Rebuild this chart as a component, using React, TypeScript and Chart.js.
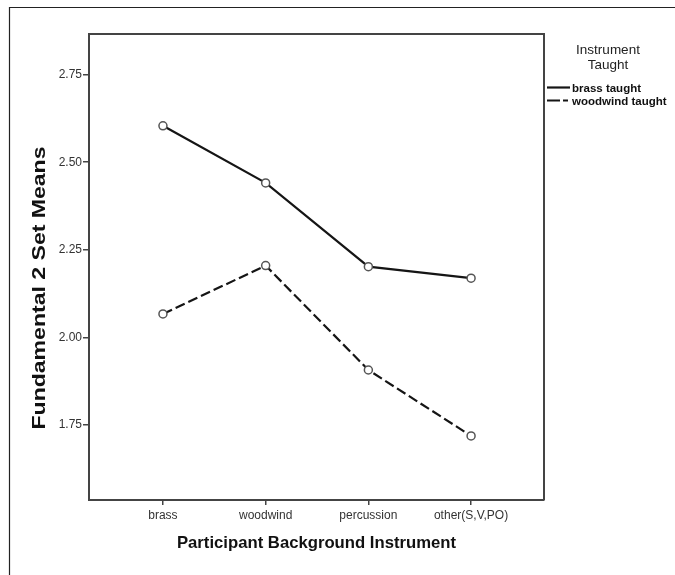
import React, { useEffect, useRef } from "react";
import { Chart, registerables } from "chart.js";

Chart.register(...registerables);

const categories = ["brass", "woodwind", "percussion", "other(S,V,PO)"];
const brassTaught = [2.604, 2.441, 2.202, 2.169];
const woodwindTaught = [2.067, 2.205, 1.907, 1.719];
const yTicks = [1.75, 2.0, 2.25, 2.5, 2.75];
const seriesLabels = ["brass taught", "woodwind taught"];
const legendTitle = ["Instrument", "Taught"];
const xTitle = "Participant Background Instrument";
const yTitle = "Fundamental 2 Set Means";

const FONT = "'Liberation Sans', Arial, Helvetica, sans-serif";

const decorPlugin = {
  id: "decor",
  afterDraw(chart: any) {
    const ctx = chart.ctx;
    const a = chart.chartArea;
    ctx.save();
    // outer frame (top & left visible)
    ctx.strokeStyle = "#222";
    ctx.lineWidth = 1.2;
    ctx.beginPath();
    ctx.moveTo(9.5, 575);
    ctx.lineTo(9.5, 7.5);
    ctx.lineTo(675, 7.5);
    ctx.stroke();
    // top & right border of plot
    ctx.strokeStyle = "#444";
    ctx.lineWidth = 2;
    ctx.beginPath();
    ctx.moveTo(a.left, a.top);
    ctx.lineTo(a.right, a.top);
    ctx.lineTo(a.right, a.bottom);
    ctx.stroke();
    // y title
    ctx.fillStyle = "#111";
    ctx.font = `bold 19px ${FONT}`;
    const w = ctx.measureText(yTitle).width;
    const target = 283;
    ctx.translate(40, 288);
    ctx.rotate(-Math.PI / 2);
    ctx.scale(target / w, 1);
    ctx.textAlign = "center";
    ctx.textBaseline = "middle";
    ctx.fillText(yTitle, 0, 0);
    ctx.restore();

    // legend
    ctx.save();
    ctx.fillStyle = "#222";
    ctx.font = `13.5px ${FONT}`;
    ctx.textAlign = "center";
    ctx.textBaseline = "middle";
    legendTitle.forEach((t, i) => ctx.fillText(t, 608, 50 + i * 15));
    chart.data.datasets.forEach((ds: any, i: number) => {
      const y = 87.5 + i * 13;
      ctx.strokeStyle = ds.borderColor;
      ctx.lineWidth = ds.borderWidth;
      ctx.setLineDash(i === 0 ? [] : [13, 3, 5, 100]);
      ctx.beginPath();
      ctx.moveTo(547, y);
      ctx.lineTo(570, y);
      ctx.stroke();
      ctx.setLineDash([]);
      ctx.fillStyle = "#111";
      ctx.font = `bold 11.5px ${FONT}`;
      ctx.textAlign = "left";
      ctx.fillText(ds.label, 572, y + 1);
    });
    ctx.restore();
  },
};

export default function App() {
  const ref = useRef<HTMLCanvasElement | null>(null);
  useEffect(() => {
    if (!ref.current) return;
    const mk = (vals: number[]) => vals.map((v, i) => ({ x: i, y: v }));
    const chart = new Chart(ref.current, {
      type: "line",
      data: {
        datasets: [
          {
            label: seriesLabels[0],
            data: mk(brassTaught),
            borderColor: "#151515",
            borderWidth: 2.2,
            pointRadius: 4,
            pointBorderWidth: 1.5,
            pointBorderColor: "#555",
            pointBackgroundColor: "#fff",
            tension: 0,
          },
          {
            label: seriesLabels[1],
            data: mk(woodwindTaught),
            borderColor: "#151515",
            borderWidth: 2.2,
            borderDash: [10, 4],
            pointRadius: 4,
            pointBorderWidth: 1.5,
            pointBorderColor: "#555",
            pointBackgroundColor: "#fff",
            tension: 0,
          },
        ],
      },
      options: {
        responsive: false,
        animation: false,
        devicePixelRatio: 1,
        layout: { padding: { left: 0, top: 34, right: 131, bottom: 0 } },
        plugins: { legend: { display: false }, tooltip: { enabled: false } },
        scales: {
          x: {
            type: "linear",
            min: -0.72,
            max: 3.71,
            afterBuildTicks: (s: any) => {
              s.ticks = categories.map((_, i) => ({ value: i }));
            },
            afterFit: (s: any) => {
              s.height = 75;
            },
            ticks: {
              autoSkip: false,
              maxRotation: 0,
              padding: 3,
              color: "#333",
              font: { family: FONT, size: 12 },
              callback: (v: any) => categories[v] ?? "",
            },
            grid: {
              display: true,
              drawOnChartArea: false,
              drawTicks: true,
              tickLength: 5,
              color: "#444",
              lineWidth: 1.5,
            },
            border: { display: true, color: "#444", width: 2 },
            title: {
              display: true,
              text: xTitle,
              color: "#111",
              font: { family: FONT, size: 16.7, weight: "bold" },
              padding: { top: 0, bottom: 22 },
            },
          },
          y: {
            type: "linear",
            min: 1.536,
            max: 2.866,
            afterBuildTicks: (s: any) => {
              s.ticks = yTicks.map((v) => ({ value: v }));
            },
            afterFit: (s: any) => {
              s.width = 89;
            },
            ticks: {
              padding: 1,
              color: "#333",
              font: { family: FONT, size: 12 },
              callback: (v: any) => Number(v).toFixed(2),
            },
            grid: {
              display: true,
              drawOnChartArea: false,
              drawTicks: true,
              tickLength: 6,
              color: "#444",
              lineWidth: 1.5,
            },
            border: { display: true, color: "#444", width: 2 },
          },
        },
      },
      plugins: [decorPlugin],
    } as any);
    return () => chart.destroy();
  }, []);
  return (
    <div
      style={{
        position: "fixed",
        left: 0,
        top: 0,
        width: 675,
        height: 575,
        overflow: "hidden",
        background: "#fff",
      }}
    >
      <canvas ref={ref} width={675} height={575} style={{ display: "block" }} />
    </div>
  );
}
